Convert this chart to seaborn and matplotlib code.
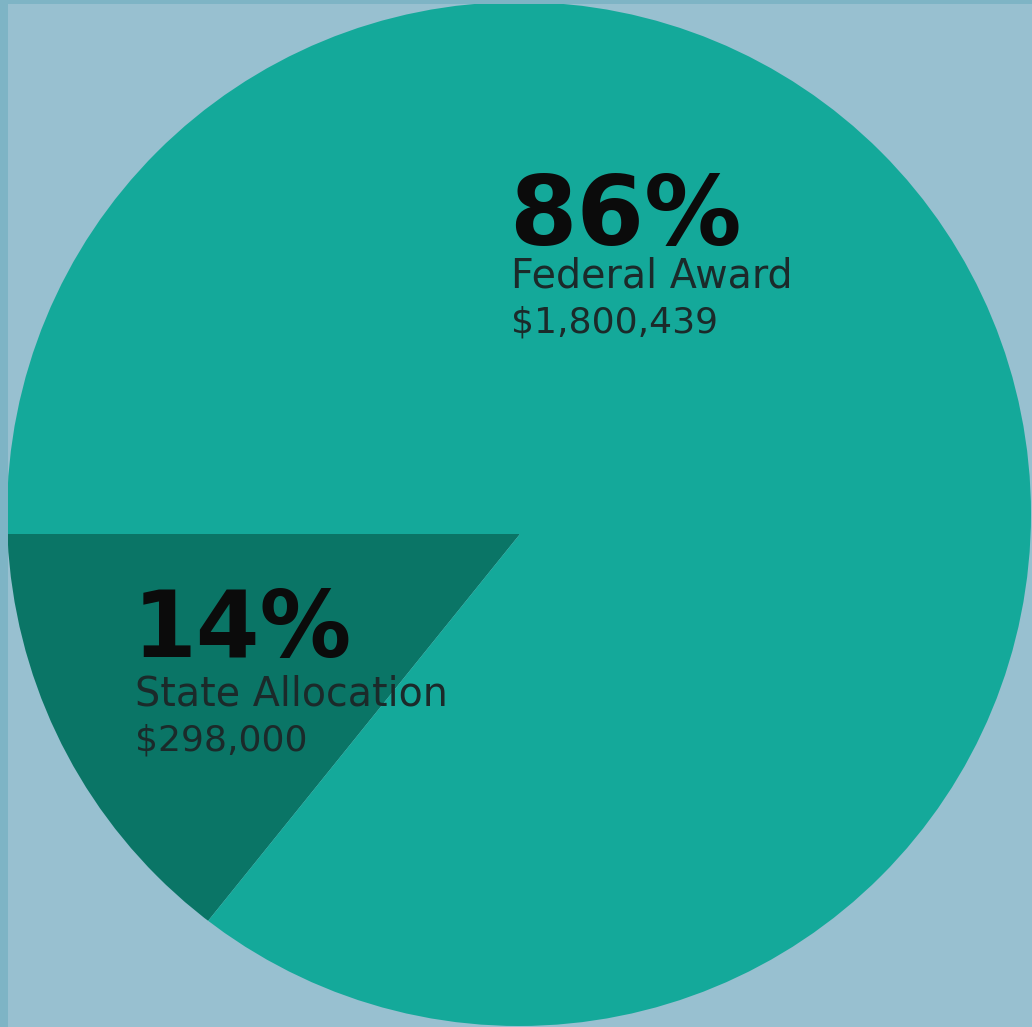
import matplotlib
matplotlib.use("Agg")
import matplotlib.pyplot as plt
from matplotlib.patches import Circle, Rectangle
import seaborn as sns

# 数据
labels = ["State Allocation", "Federal Award"]
amounts = [298000, 1800439]
percents = ["14%", "86%"]
amount_text = ["$298,000", "$1,800,439"]

# 颜色
BG = "#98C0D0"
BORDER = "#7EB4C5"
DARK = "#0A7566"
TEAL = "#14A99A"

sns.set_theme(style="white")
plt.rcParams['font.family'] = ['DejaVu Sans']

W, H = 1032, 1027
fig = plt.figure(figsize=(W / 100, H / 100), dpi=100, facecolor=BG)
ax = fig.add_axes([0, 0, 1, 1])
ax.set_facecolor(BG)

# 外圆（像素坐标，y 向上）
disc_center = (519, H - 514)
disc_r = 512
clip = Circle(disc_center, disc_r, transform=ax.transData)

# 扇区顶点略低于圆心，用外圆裁剪
wedges, _ = ax.pie(amounts, colors=[DARK, TEAL], startangle=180,
                   counterclock=True, radius=570, center=(520, H - 534),
                   wedgeprops=dict(linewidth=0), frame=True)
for w in wedges:
    w.set_clip_on(True)
    w.set_clip_path(clip)

ax.set_xlim(0, W)
ax.set_ylim(0, H)
ax.set_aspect('equal')
ax.axis('off')

# 边框条
fig.patches.append(Rectangle((0, 0), 8 / W, 1, transform=fig.transFigure,
                             facecolor=BORDER, edgecolor='none', zorder=0))
fig.patches.append(Rectangle((0, 1 - 4 / H), 1, 4 / H, transform=fig.transFigure,
                             facecolor=BORDER, edgecolor='none', zorder=0))

# 文字标注
spots = [(133, 657), (509, 245)]
pct_size = [66, 70]
for i, (x, y) in enumerate(spots):
    ax.text(x, H - y, percents[i], fontsize=pct_size[i], fontweight='bold',
            color='#0B0B0B', ha='left', va='baseline')
    ax.text(x + 2, H - (y + 49 if i == 0 else y + 43), labels[i], fontsize=28.5,
            color='#1B2A2A', ha='left', va='baseline')
    ax.text(x + 2, H - (y + 94 if i == 0 else y + 87), amount_text[i], fontsize=26,
            color='#1B2A2A', ha='left', va='baseline')

plt.savefig("out.png", dpi=100, facecolor=BG)
